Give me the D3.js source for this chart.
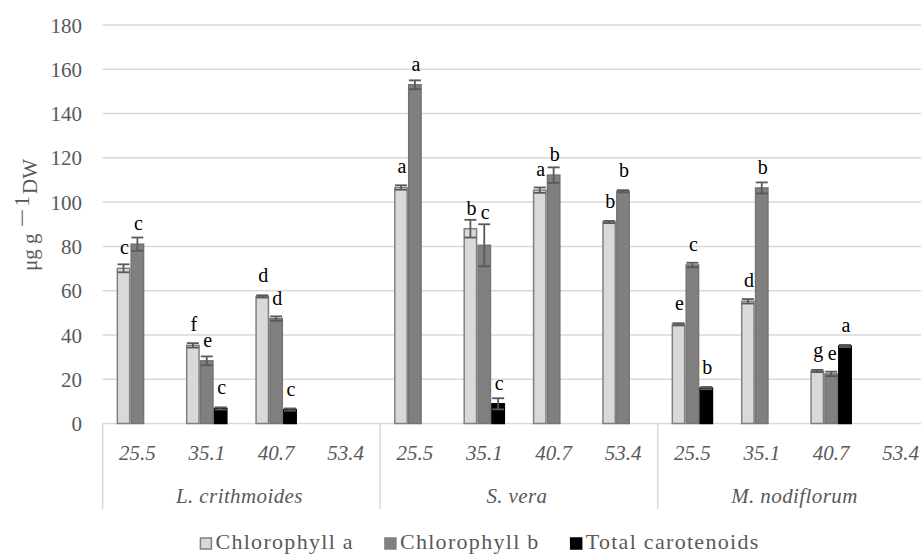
<!DOCTYPE html>
<html>
<head>
<meta charset="utf-8">
<script src="https://cdn.jsdelivr.net/npm/d3@7"></script>
<style>
  html, body { margin: 0; padding: 0; background: #fff; }
  svg { display: block; }
  svg text { font-family: "Liberation Serif", "Times New Roman", Tinos, "DejaVu Serif", serif; }
</style>
</head>
<body>
<svg id="chart" width="921" height="555"></svg>
<script>
// Species groups and the salinity levels measured within each
const groups = ["L. crithmoides", "S. vera", "M. nodiflorum"];
const levels = ["25.5", "35.1", "40.7", "53.4"];
const seriesNames = ["Chlorophyll a", "Chlorophyll b", "Total carotenoids"];
const yTicks = [0, 20, 40, 60, 80, 100, 120, 140, 160, 180];

// Means, error bars and significance letters, one entry per group x level (null = not measured)
const chlA        = [70.1, 35.3, 57.4, null, 106.6, 88.0, 105.4, 91.0, 44.8, 55.2, 23.7, null];
const chlAErr     = [1.8, 1.0, 0.5, null, 1.0, 4.0, 1.2, 0.5, 0.5, 1.0, 0.5, null];
const chlALetters = ["c", "f", "d", null, "a", "b", "a", "b", "e", "d", "g", null];

const chlB        = [81.0, 28.3, 47.4, null, 153.0, 80.5, 112.2, 104.9, 71.6, 106.4, 22.4, null];
const chlBErr     = [3.0, 2.0, 1.0, null, 2.0, 9.5, 3.5, 0.5, 1.0, 2.5, 1.0, null];
const chlBLetters = ["c", "e", "d", null, "a", "c", "b", "b", "c", "b", "e", null];

const carot        = [null, 6.8, 6.3, null, null, 8.9, null, null, 16.0, null, 35.0, null];
const carotErr     = [null, 0.5, 0.5, null, null, 2.5, null, null, 0.5, null, 0.5, null];
const carotLetters = [null, "c", "c", null, null, "c", null, null, "b", null, "a", null];

const seriesStyle = [
  { fill: "#d9d9d9", stroke: "#808080" },
  { fill: "#808080", stroke: "#747474" },
  { fill: "#000000", stroke: "#000000" }
];

const svg = d3.select("#chart");
const margin = { left: 102.7, top: 25, bottom: 423.5 };
const plotRight = 935.2;

// Build flat records
const values = [chlA, chlB, carot];
const errs = [chlAErr, chlBErr, carotErr];
const letters = [chlALetters, chlBLetters, carotLetters];
const records = [];
groups.forEach((g, gi) => {
  levels.forEach((l, li) => {
    const idx = gi * levels.length + li;
    seriesNames.forEach((s, si) => {
      records.push({ group: g, level: l, series: s, si,
        value: values[si][idx], err: errs[si][idx], letter: letters[si][idx] });
    });
  });
});

const x0 = d3.scaleBand().domain(groups).range([margin.left, plotRight]).padding(0);
const x1 = d3.scaleBand().domain(levels).range([0, x0.bandwidth()]).padding(0);
const slot = x1.bandwidth();
const x2 = d3.scaleBand().domain(seriesNames).range([slot * 0.2, slot * 0.8]).padding(0);
const y = d3.scaleLinear().domain([0, 180]).range([margin.bottom, margin.top]);

const barX = d => x0(d.group) + x1(d.level) + x2(d.series);

// Gridlines
svg.append("g").selectAll("line").data(yTicks.filter(t => t > 0)).join("line")
  .attr("x1", margin.left).attr("x2", 921)
  .attr("y1", d => y(d)).attr("y2", d => y(d))
  .attr("stroke", "#d9d9d9").attr("stroke-width", 1.5);

// Y axis labels
const yAxis = d3.axisLeft(y).tickValues(yTicks).tickSize(0).tickPadding(0);
const yg = svg.append("g").attr("transform", "translate(82,0)").call(yAxis);
yg.attr("font-family", null).attr("font-size", null);
yg.select(".domain").remove();
yg.selectAll("text").attr("font-size", 21).attr("fill", "#595959").attr("dy", "0.34em");

// Y axis title: μg g⁻¹ DW
const yt = svg.append("text")
  .attr("transform", "translate(37,215) rotate(-90)")
  .attr("text-anchor", "middle").attr("font-size", 21).attr("fill", "#595959");
yt.append("tspan").text("μg g");
yt.append("tspan").attr("dx", 6).attr("dy", -8)
  .attr("textLength", 19).attr("lengthAdjust", "spacingAndGlyphs").text("\u2212");
yt.append("tspan").attr("dx", 2).text("1");
yt.append("tspan").attr("dx", 2).attr("dy", 8).text("DW");

// Category axis: baseline, group separators, labels
const axis = svg.append("g");
axis.append("line").attr("x1", margin.left).attr("x2", 921)
  .attr("y1", margin.bottom).attr("y2", margin.bottom)
  .attr("stroke", "#d9d9d9").attr("stroke-width", 1.5);
axis.selectAll("line.sep").data(groups).join("line").attr("class", "sep")
  .attr("x1", d => x0(d)).attr("x2", d => x0(d))
  .attr("y1", margin.bottom).attr("y2", 509)
  .attr("stroke", "#d9d9d9").attr("stroke-width", 1.5);

groups.forEach(g => {
  axis.selectAll(null).data(levels).join("text")
    .attr("x", l => x0(g) + x1(l) + slot / 2).attr("y", 460)
    .attr("text-anchor", "middle").attr("font-size", 21).attr("font-style", "italic")
    .attr("fill", "#595959").text(l => l);
});
axis.selectAll("text.grp").data(groups).join("text").attr("class", "grp")
  .attr("x", d => x0(d) + x0.bandwidth() / 2 - 2).attr("y", 503)
  .attr("text-anchor", "middle").attr("font-size", 21).attr("font-style", "italic")
  .attr("letter-spacing", 0.4).attr("fill", "#595959").text(d => d);

// Bars
const present = records.filter(d => d.value != null);
svg.append("g").selectAll("rect").data(present).join("rect")
  .attr("x", d => barX(d) + 0.75)
  .attr("width", x2.bandwidth() - 1.5)
  .attr("y", d => y(d.value))
  .attr("height", d => y(0) - y(d.value))
  .attr("fill", d => seriesStyle[d.si].fill)
  .attr("stroke", d => seriesStyle[d.si].stroke)
  .attr("stroke-width", 1.5);

// Error bars
const eb = svg.append("g").attr("stroke", "#595959").attr("stroke-width", 1.8);
present.forEach(d => {
  const cx = barX(d) + x2.bandwidth() / 2;
  const lo = y(d.value - d.err), hi = y(d.value + d.err);
  eb.append("line").attr("x1", cx).attr("x2", cx).attr("y1", lo).attr("y2", hi);
  eb.append("line").attr("x1", cx - 6).attr("x2", cx + 6).attr("y1", lo).attr("y2", lo);
  eb.append("line").attr("x1", cx - 6).attr("x2", cx + 6).attr("y1", hi).attr("y2", hi);
});

// Significance letters
svg.append("g").selectAll("text").data(present.filter(d => d.letter)).join("text")
  .attr("x", d => barX(d) + x2.bandwidth() / 2 + 1)
  .attr("y", d => Math.min(y(d.value) - 14, y(d.value + d.err) - 5))
  .attr("text-anchor", "middle").attr("font-size", 20).attr("fill", "#000")
  .text(d => d.letter);

// Legend
const legend = svg.append("g");
let cursor = 0;
seriesNames.forEach((s, i) => {
  const it = legend.append("g");
  it.append("rect").attr("x", cursor).attr("y", -11).attr("width", 11).attr("height", 11)
    .attr("fill", seriesStyle[i].fill).attr("stroke", i === 2 ? "#000" : "#808080").attr("stroke-width", 1.5);
  const t = it.append("text").attr("x", cursor + 15).attr("y", 0)
    .attr("font-size", 22).attr("letter-spacing", 1.3).attr("fill", "#595959").text(s);
  cursor += 15 + t.node().getComputedTextLength() + 31;
});
const total = cursor - 31;
legend.attr("transform", `translate(${480 - total / 2},549)`);
</script>
</body>
</html>
